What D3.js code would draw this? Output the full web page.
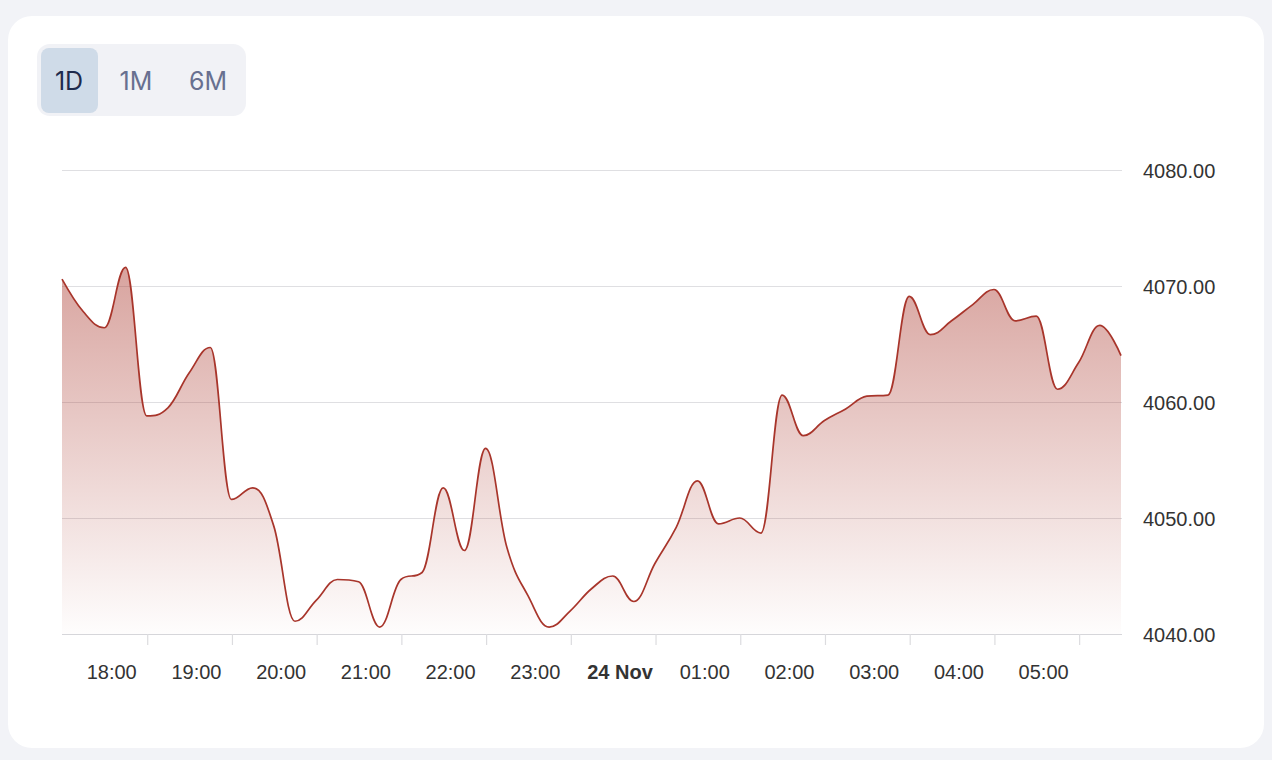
<!DOCTYPE html>
<html>
<head>
<meta charset="utf-8">
<script src="https://cdn.jsdelivr.net/npm/d3@7"></script>
<style>
  html, body { margin: 0; padding: 0; background: #f2f3f7; }
  svg { display: block; }
</style>
</head>
<body>
<svg id="chart" width="1272" height="760"></svg>
<script>
// ---- data ----
const startTime = [2023, 10, 23, 17, 0]; // 23 Nov 17:00, 15-minute steps
const stepMinutes = 15;
const prices = [
  4070.6, 4067.8, 4066.4, 4071.6, 4058.8, 4059.5, 4062.5, 4064.7,
  4051.6, 4052.6, 4049.3, 4041.1, 4042.9, 4044.7, 4044.5, 4040.6,
  4044.7, 4045.3, 4052.6, 4047.2, 4056.0, 4047.5, 4043.3, 4040.6,
  4042.0, 4043.9, 4045.0, 4042.8, 4046.1, 4049.2, 4053.2, 4049.5,
  4050.0, 4048.7, 4060.6, 4057.1, 4058.4, 4059.4, 4060.5, 4060.6,
  4069.1, 4065.8, 4067.0, 4068.4, 4069.7, 4067.0, 4067.4, 4061.1,
  4063.4, 4066.6, 4064.0
];
const yTicks = [4040, 4050, 4060, 4070, 4080];
const rangeButtons = ["1D", "1M", "6M"];
const activeButton = "1D";

const t0 = new Date(...startTime);
const data = prices.map((v, i) => ({ t: new Date(t0.getTime() + i * stepMinutes * 60000), v }));

// ---- spline curve (smoothing 1.5, control points aligned through each point, no false extremes) ----
function SplineCurve(context) { this._context = context; }
SplineCurve.prototype = {
  areaStart() { this._line = 0; },
  areaEnd() { this._line = NaN; },
  lineStart() { this._pts = []; },
  point(x, y) { this._pts.push([+x, +y]); },
  lineEnd() {
    const p = this._pts, n = p.length, c = this._context;
    if (n) {
      if (this._line) c.lineTo(p[0][0], p[0][1]); else c.moveTo(p[0][0], p[0][1]);
      const sm = 1.5, den = sm + 1;
      const lc = p.map(q => [q[0], q[1]]), rc = p.map(q => [q[0], q[1]]);
      for (let i = 1; i < n - 1; i++) {
        const [px, py] = p[i], [lx, ly] = p[i - 1], [nx, ny] = p[i + 1];
        let lcx = (sm * px + lx) / den, lcy = (sm * py + ly) / den;
        let rcx = (sm * px + nx) / den, rcy = (sm * py + ny) / den;
        let corr = 0;
        if (rcx !== lcx) corr = ((rcy - lcy) * (rcx - px)) / (rcx - lcx) + py - rcy;
        lcy += corr; rcy += corr;
        if (lcy > ly && lcy > py) { lcy = Math.max(ly, py); rcy = 2 * py - lcy; }
        else if (lcy < ly && lcy < py) { lcy = Math.min(ly, py); rcy = 2 * py - lcy; }
        if (rcy > ny && rcy > py) { rcy = Math.max(ny, py); lcy = 2 * py - rcy; }
        else if (rcy < ny && rcy < py) { rcy = Math.min(ny, py); lcy = 2 * py - rcy; }
        lc[i] = [lcx, lcy]; rc[i] = [rcx, rcy];
      }
      for (let i = 1; i < n; i++) {
        c.bezierCurveTo(rc[i - 1][0], rc[i - 1][1], lc[i][0], lc[i][1], p[i][0], p[i][1]);
      }
    }
    if (this._line || (this._line !== 0 && n === 1)) c.closePath();
    this._line = 1 - this._line;
  }
};
const splineCurve = ctx => new SplineCurve(ctx);

// ---- layout ----
const svg = d3.select("#chart");
const plot = { left: 62, right: 1122, top: 170, bottom: 634 };

// card
svg.append("rect").attr("x", 8).attr("y", 16).attr("width", 1256).attr("height", 732)
  .attr("rx", 24).attr("fill", "#ffffff");

// range buttons
const btnG = svg.append("g");
btnG.append("rect").attr("x", 37).attr("y", 44).attr("width", 209).attr("height", 72)
  .attr("rx", 13).attr("fill", "#f1f2f6");
const btnCenters = [69, 136, 208];
rangeButtons.forEach((b, i) => {
  if (b === activeButton) {
    btnG.append("rect").attr("x", 41).attr("y", 48).attr("width", 57).attr("height", 65)
      .attr("rx", 8).attr("fill", "#cfdbe8");
  }
  btnG.append("text").attr("x", btnCenters[i]).attr("y", 89.5)
    .attr("text-anchor", "middle")
    .attr("font-family", "Inter, 'Liberation Sans', sans-serif")
    .attr("font-size", 25)
    .attr("fill", b === activeButton ? "#1e2a4c" : "#687090")
    .text(b);
});

// scales
const x = d3.scaleTime().domain(d3.extent(data, d => d.t)).range([plot.left, plot.right - 1]);
const y = d3.scaleLinear().domain([4040, 4080]).range([plot.bottom, plot.top]);

// gradient
const defs = svg.append("defs");
const grad = defs.append("linearGradient").attr("id", "areaGrad")
  .attr("gradientUnits", "userSpaceOnUse")
  .attr("x1", 0).attr("x2", 0).attr("y1", y(4072)).attr("y2", plot.bottom);
grad.append("stop").attr("offset", 0).attr("stop-color", "#a9362b").attr("stop-opacity", 0.46);
grad.append("stop").attr("offset", 1).attr("stop-color", "#a9362b").attr("stop-opacity", 0.01);

// grid lines
svg.append("g").selectAll("line").data(yTicks).join("line")
  .attr("x1", plot.left).attr("x2", plot.right)
  .attr("y1", d => y(d) + 0.5).attr("y2", d => y(d) + 0.5)
  .attr("stroke", d => d === 4040 ? "#d6d6da" : "#dfdfe2").attr("stroke-width", 1.2);

// area + line
svg.append("path").datum(data)
  .attr("d", d3.area().curve(splineCurve).x(d => x(d.t)).y0(plot.bottom).y1(d => y(d.v)))
  .attr("fill", "url(#areaGrad)");
svg.append("path").datum(data)
  .attr("d", d3.line().curve(splineCurve).x(d => x(d.t)).y(d => y(d.v)))
  .attr("fill", "none").attr("stroke", "#a8352b").attr("stroke-width", 1.7);

// x axis
const fmt = d3.timeFormat("%H:%M");
const hourTicks = x.ticks(d3.timeHour.every(1)).filter(d => d > t0);
const xAxis = d3.axisBottom(x)
  .tickValues(hourTicks)
  .tickSize(11)
  .tickFormat(d => d.getHours() === 0 ? d3.timeFormat("%-d %b")(d) : fmt(d));
const gx = svg.append("g").attr("transform", `translate(0.5,${plot.bottom})`).call(xAxis);
gx.select(".domain").remove();
gx.selectAll(".tick line").attr("stroke", "#dcdcdf").attr("stroke-width", 1.2);
gx.selectAll(".tick text")
  .attr("x", -36).attr("y", 45).attr("dy", 0)
  .attr("font-family", "'Liberation Sans', Arial, Helvetica, sans-serif")
  .attr("font-size", 20).attr("fill", "#333333")
  .attr("font-weight", d => d.getHours() === 0 ? "bold" : "normal");

// y axis
const yAxis = d3.axisRight(y).tickValues(yTicks).tickSize(0).tickPadding(21)
  .tickFormat(d3.format(".2f"));
const gy = svg.append("g").attr("transform", `translate(${plot.right},0)`).call(yAxis);
gy.select(".domain").remove();
gy.selectAll(".tick text")
  .attr("dy", 7.3)
  .attr("font-family", "'Liberation Sans', Arial, Helvetica, sans-serif")
  .attr("font-size", 20).attr("fill", "#333333");
</script>
</body>
</html>
